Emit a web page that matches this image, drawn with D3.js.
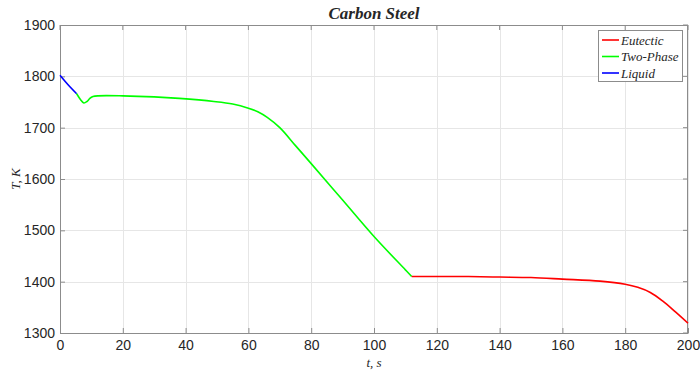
<!DOCTYPE html>
<html>
<head>
<meta charset="utf-8" />
<title>Carbon Steel</title>
<script src="https://cdn.jsdelivr.net/npm/d3@7"></script>
<style>
    body { margin: 0; background: #fff; }
    .lbl { font-family: "Liberation Serif", "Times New Roman", serif; font-style: italic; fill: #262626; }
</style>
</head>
<body>
<svg width="700" height="374"></svg>
<script>
// data
var liquidT = [0, 2.5, 5.3];
var liquidK = [1802, 1784, 1766];

var twoPhaseT = [5.3, 6.5, 7.6, 8.6, 9.5, 10.5, 12, 20, 30, 38, 49, 55, 60, 63, 66, 70, 75, 80, 90, 100, 110, 112];
var twoPhaseK = [1766, 1755, 1748, 1751, 1757, 1760.5, 1762, 1762, 1760, 1757, 1751, 1746, 1738, 1731, 1720, 1700, 1665, 1630, 1559, 1488, 1423, 1410];

var eutecticT = [112, 120, 130, 140, 150, 160, 172, 180, 184, 188, 192, 196, 200];
var eutecticK = [1410, 1410, 1410, 1409, 1408, 1405, 1401, 1395, 1389, 1379, 1362, 1341, 1319];

var xTicks = [0, 20, 40, 60, 80, 100, 120, 140, 160, 180, 200];
var yTicks = [1300, 1400, 1500, 1600, 1700, 1800, 1900];

var legendNames = ["Eutectic", "Two-Phase", "Liquid"];
var legendColors = ["#ff0000", "#00ff00", "#0000ff"];

var m = { left: 60, top: 25, right: 12, bottom: 41 };
var W = 700, H = 374;
var svg = d3.select("svg");
var g = svg.append("g").attr("transform", "translate(" + m.left + "," + m.top + ")");
var w = W - m.left - m.right, h = H - m.top - m.bottom;

var x = d3.scaleLinear().domain([0, 200]).range([0, w]);
var y = d3.scaleLinear().domain([1300, 1900]).range([h, 0]);

// grid
g.append("g").selectAll("line").data(xTicks).enter().append("line")
    .attr("x1", d => Math.round(x(d)) + 0.5).attr("x2", d => Math.round(x(d)) + 0.5)
    .attr("y1", 0).attr("y2", h).attr("stroke", "#e6e6e6");
g.append("g").selectAll("line").data(yTicks).enter().append("line")
    .attr("y1", d => Math.round(y(d)) + 0.5).attr("y2", d => Math.round(y(d)) + 0.5)
    .attr("x1", 0).attr("x2", w).attr("stroke", "#e6e6e6");

// axes
var fmt = d3.format("d");
var xAxis = g.append("g").attr("transform", "translate(0," + h + ")")
    .call(d3.axisBottom(x).tickValues(xTicks).tickFormat(fmt).tickSizeInner(-5).tickSizeOuter(0).tickPadding(7));
var yAxis = g.append("g")
    .call(d3.axisLeft(y).tickValues(yTicks).tickFormat(fmt).tickSizeInner(-5).tickSizeOuter(0).tickPadding(5));
[xAxis, yAxis].forEach(function (a) {
    a.attr("font-family", "'Liberation Sans', Arial, sans-serif").attr("font-size", 14);
    a.select(".domain").attr("stroke", "#8c8c8c");
    a.selectAll(".tick line").attr("stroke", "#8c8c8c");
    a.selectAll(".tick text").attr("fill", "#262626");
});

// box top/right
g.append("line").attr("x1", 0).attr("x2", w).attr("y1", 0.5).attr("y2", 0.5).attr("stroke", "#8c8c8c");
g.append("line").attr("x1", w - 0.5).attr("x2", w - 0.5).attr("y1", 0).attr("y2", h).attr("stroke", "#8c8c8c");
g.append("g").selectAll("line").data(xTicks).enter().append("line")
    .attr("x1", d => x(d)).attr("x2", d => x(d)).attr("y1", 0).attr("y2", 5).attr("stroke", "#8c8c8c");
g.append("g").selectAll("line").data(yTicks).enter().append("line")
    .attr("x1", w).attr("x2", w - 5).attr("y1", d => y(d)).attr("y2", d => y(d)).attr("stroke", "#8c8c8c");

// curves
var line = d3.line().x(d => x(d[0])).y(d => y(d[1])).curve(d3.curveCatmullRom.alpha(0.5));
var series = [
    { t: liquidT, k: liquidK, c: "#0000ff" },
    { t: twoPhaseT, k: twoPhaseK, c: "#00ff00" },
    { t: eutecticT, k: eutecticK, c: "#ff0000" }
];
series.forEach(function (s) {
    g.append("path").datum(d3.zip(s.t, s.k))
        .attr("d", line).attr("fill", "none")
        .attr("stroke", s.c).attr("stroke-width", 1.6);
});

// title and labels
svg.append("text").attr("class", "lbl").attr("x", m.left + w / 2).attr("y", 19)
    .attr("text-anchor", "middle").attr("font-weight", "bold").attr("font-size", 17)
    .attr("fill", "#000").text("Carbon Steel");
svg.append("text").attr("class", "lbl").attr("x", m.left + w / 2).attr("y", 367)
    .attr("text-anchor", "middle").attr("font-size", 13).text("t, s");
svg.append("text").attr("class", "lbl").attr("transform", "translate(20," + 179 + ") rotate(-90)")
    .attr("text-anchor", "middle").attr("font-size", 13).text("T, K");

// legend
var lg = svg.append("g").attr("transform", "translate(598,30)");
lg.append("rect").attr("x", 0.5).attr("y", 0.5).attr("width", 84).attr("height", 51)
    .attr("fill", "#fff").attr("stroke", "#8c8c8c");
legendNames.forEach(function (n, i) {
    var yy = 10 + i * 16.5;
    lg.append("line").attr("x1", 4).attr("x2", 21).attr("y1", yy).attr("y2", yy)
        .attr("stroke", legendColors[i]).attr("stroke-width", 1.6);
    lg.append("text").attr("class", "lbl").attr("x", 23).attr("y", yy + 4.5)
        .attr("font-size", 13).text(n);
});
</script>
</body>
</html>
